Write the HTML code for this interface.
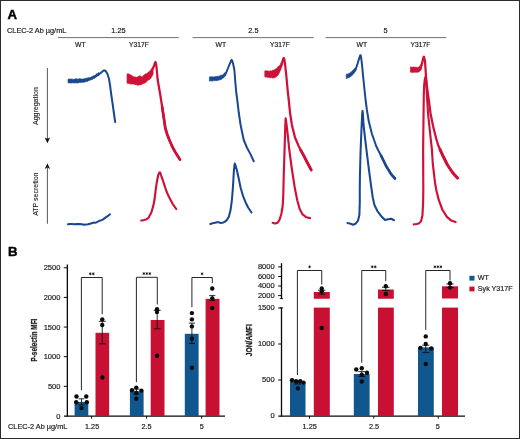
<!DOCTYPE html>
<html><head><meta charset="utf-8"><title>Figure</title>
<style>
html,body{margin:0;padding:0;background:#fff;}
body{width:520px;height:439px;overflow:hidden;font-family:"Liberation Sans",sans-serif;}
#fig{position:absolute;left:0;top:0;width:520px;height:439px;box-sizing:border-box;border:1px solid #2b2b2b;background:#fff;}
svg{position:absolute;left:0;top:0;display:block;will-change:transform;}
text{font-family:"Liberation Sans",sans-serif;}
</style></head>
<body>
<div id="fig"></div>
<svg width="520" height="439" viewBox="0 0 520 439">
<text x="7.4" y="19.0" font-size="13.2" text-anchor="start" font-weight="bold" fill="#000" stroke="#000" stroke-width="0.45" >A</text>
<text x="7" y="32.9" font-size="7.35" text-anchor="start" font-weight="normal" fill="#1a1a1a" stroke="#1a1a1a" stroke-width="0.18" >CLEC-2 Ab µg/mL</text>
<text x="118.4" y="32.7" font-size="7.3" text-anchor="middle" font-weight="normal" fill="#1a1a1a" stroke="#1a1a1a" stroke-width="0.18" >1.25</text>
<text x="253.4" y="32.7" font-size="7.3" text-anchor="middle" font-weight="normal" fill="#1a1a1a" stroke="#1a1a1a" stroke-width="0.18" >2.5</text>
<text x="385.6" y="32.7" font-size="7.3" text-anchor="middle" font-weight="normal" fill="#1a1a1a" stroke="#1a1a1a" stroke-width="0.18" >5</text>
<line x1="58" y1="37.6" x2="178.75" y2="37.6" stroke="#333" stroke-width="0.7"/>
<line x1="192.5" y1="37.6" x2="313.75" y2="37.6" stroke="#333" stroke-width="0.7"/>
<line x1="325.5" y1="37.6" x2="446.25" y2="37.6" stroke="#333" stroke-width="0.7"/>
<text x="80.4" y="47.3" font-size="7.1" text-anchor="middle" font-weight="normal" fill="#1a1a1a" stroke="#1a1a1a" stroke-width="0.18" textLength="10.6" lengthAdjust="spacingAndGlyphs">WT</text>
<text x="220.79999999999998" y="47.3" font-size="7.1" text-anchor="middle" font-weight="normal" fill="#1a1a1a" stroke="#1a1a1a" stroke-width="0.18" textLength="10.6" lengthAdjust="spacingAndGlyphs">WT</text>
<text x="361.8" y="47.3" font-size="7.1" text-anchor="middle" font-weight="normal" fill="#1a1a1a" stroke="#1a1a1a" stroke-width="0.18" textLength="10.6" lengthAdjust="spacingAndGlyphs">WT</text>
<text x="138.9" y="47.3" font-size="7.1" text-anchor="middle" font-weight="normal" fill="#1a1a1a" stroke="#1a1a1a" stroke-width="0.18" textLength="19.6" lengthAdjust="spacingAndGlyphs">Y317F</text>
<text x="279.90000000000003" y="47.3" font-size="7.1" text-anchor="middle" font-weight="normal" fill="#1a1a1a" stroke="#1a1a1a" stroke-width="0.18" textLength="19.6" lengthAdjust="spacingAndGlyphs">Y317F</text>
<text x="420.40000000000003" y="47.3" font-size="7.1" text-anchor="middle" font-weight="normal" fill="#1a1a1a" stroke="#1a1a1a" stroke-width="0.18" textLength="19.6" lengthAdjust="spacingAndGlyphs">Y317F</text>
<line x1="47.4" y1="68" x2="47.4" y2="139" stroke="#222" stroke-width="0.75"/>
<polygon points="44.7,137.4 47.4,138.8 50.1,137.4 47.4,143.3" fill="#111"/>
<line x1="47.4" y1="167.5" x2="47.4" y2="223.8" stroke="#222" stroke-width="0.75"/>
<polygon points="44.7,168.9 47.4,167.5 50.1,168.9 47.4,163.2" fill="#111"/>
<text transform="translate(38.3,125.0) rotate(-90)" font-size="7.8" fill="#1a1a1a" stroke="#1a1a1a" stroke-width="0.12" textLength="37.8" lengthAdjust="spacingAndGlyphs">Aggregation</text>
<text transform="translate(38.3,215.8) rotate(-90)" font-size="7.8" fill="#1a1a1a" stroke="#1a1a1a" stroke-width="0.12" textLength="43.2" lengthAdjust="spacingAndGlyphs">ATP secretion</text>
<polygon points="68.00,79.14 69.00,78.90 70.00,79.31 71.00,78.87 72.00,79.31 73.00,79.22 74.00,79.24 75.00,78.96 76.00,78.78 77.00,78.86 78.00,79.24 79.00,78.63 80.00,78.72 81.00,78.95 82.00,79.01 83.00,79.11 84.00,78.87 85.00,78.39 86.00,78.29 87.00,78.19 88.00,77.67 89.00,77.76 90.00,77.44 91.00,77.36 92.00,76.45 93.00,76.05 94.00,75.79 95.00,75.32 96.00,74.31 97.00,73.50 98.00,73.52 99.00,72.19 99.00,75.45 98.00,75.74 97.00,76.41 96.00,77.13 95.00,78.14 94.00,78.28 93.00,78.97 92.00,79.64 91.00,79.73 90.00,80.27 89.00,80.42 88.00,81.17 87.00,81.56 86.00,81.54 85.00,82.10 84.00,82.23 83.00,82.26 82.00,82.42 81.00,82.24 80.00,82.73 79.00,82.61 78.00,82.96 77.00,83.12 76.00,82.78 75.00,83.06 74.00,83.04 73.00,82.78 72.00,82.94 71.00,83.01 70.00,83.04 69.00,82.84 68.00,83.06" fill="#1a4890" stroke="#1a4890" stroke-width="0.6" stroke-linejoin="round"/>
<polyline points="98.00,75.00 101.00,72.80 103.00,71.00 104.00,70.30 105.00,70.60 106.00,71.40 107.50,74.00 109.00,79.00 110.00,85.00 111.30,95.00 112.50,103.00 114.00,114.00 115.20,122.00" fill="none" stroke="#1a4890" stroke-width="2.0" stroke-linecap="round" stroke-linejoin="round"/>
<polyline points="68.00,224.25 70.02,224.00 71.96,223.96 74.48,224.33 76.96,223.96 79.66,224.11 81.98,224.32 83.83,224.77 86.13,224.45 88.09,224.28 90.12,223.69 93.07,222.84 95.18,222.63 96.38,222.38 98.26,221.43 99.91,220.55 101.48,220.15 102.98,219.53 105.00,217.88 107.60,216.22 110.00,214.25" fill="none" stroke="#1a4890" stroke-width="2.05" stroke-linecap="round" stroke-linejoin="round"/>
<polygon points="127.00,73.96 128.00,73.75 129.00,73.96 130.00,74.46 131.00,75.21 132.00,75.43 133.00,76.49 134.00,76.92 135.00,76.87 136.00,77.25 136.83,77.27 137.67,76.65 138.50,76.46 139.38,75.81 140.25,75.86 141.12,76.52 142.00,77.19 143.00,75.87 144.00,75.15 145.00,74.12 146.00,73.74 147.00,73.57 148.00,72.27 149.00,71.72 150.00,71.11 151.00,69.49 152.00,68.41 153.00,67.00 153.20,73.87 152.35,75.73 151.50,77.18 150.67,78.46 149.83,79.26 149.00,79.85 148.00,80.30 147.00,81.03 146.00,82.50 145.00,82.91 144.00,83.20 143.00,83.73 142.00,84.36 141.00,84.75 140.00,84.93 139.00,84.94 138.00,85.20 137.00,85.13 136.17,84.56 135.33,84.63 134.50,84.45 133.67,83.96 132.83,84.04 132.00,83.92 131.17,84.20 130.33,83.94 129.50,83.70 128.67,83.53 127.83,83.31 127.00,83.31" fill="#cf1038" stroke="#cf1038" stroke-width="0.6" stroke-linejoin="round"/>
<polyline points="152.00,70.00 154.00,66.00 155.00,62.60 155.50,62.00 156.00,63.50 156.60,68.00 157.70,80.00 160.30,95.00 163.00,112.50 165.30,128.00 167.20,134.50 169.40,140.00 172.20,146.50 175.20,152.00 180.00,159.60" fill="none" stroke="#cf1038" stroke-width="2.25" stroke-linecap="round" stroke-linejoin="round"/>
<polyline points="162.20,107.00 163.00,112.50 165.30,128.00 167.20,134.50 169.40,140.00 172.20,146.50 175.20,152.00 180.00,159.60" fill="none" stroke="#cf1038" stroke-width="2.7" stroke-linecap="round" stroke-linejoin="round"/>
<polyline points="141.25,220.50 144.05,220.10 146.58,219.25 148.66,217.56 151.35,212.52 153.20,206.13 154.46,200.03 155.68,189.96 156.97,181.19 158.38,174.49 159.64,172.32 160.31,172.89 161.14,175.55 163.13,181.15 164.39,185.10 166.19,190.49 168.66,196.31 172.60,203.83 176.25,209.00" fill="none" stroke="#cf1038" stroke-width="2.15" stroke-linecap="round" stroke-linejoin="round"/>
<polygon points="209.40,76.88 210.30,76.72 211.20,77.03 212.10,76.58 213.00,77.04 214.00,77.03 215.00,76.51 216.00,76.67 217.00,76.26 218.00,76.36 219.00,76.13 220.00,75.65 221.00,75.12 221.92,75.22 222.83,74.71 223.75,73.84 224.88,72.80 226.00,72.21 226.00,75.38 224.88,76.16 223.75,77.68 222.83,78.18 221.92,78.87 221.00,79.71 220.00,79.73 219.00,80.10 218.00,80.32 217.00,80.64 216.00,80.51 215.00,80.81 214.00,80.61 213.00,80.72 212.10,81.14 211.20,80.77 210.30,81.04 209.40,80.95" fill="#1a4890" stroke="#1a4890" stroke-width="0.6" stroke-linejoin="round"/>
<polyline points="225.60,73.40 226.25,72.50 228.75,66.25 230.60,61.90 231.30,60.20 231.70,59.90 232.30,61.00 233.10,63.75 234.40,70.00 235.25,81.25 236.25,92.50 237.25,100.00 238.75,112.50 240.60,125.00 243.75,140.00 246.90,147.50 250.60,154.40 253.75,161.25" fill="none" stroke="#1a4890" stroke-width="2.0" stroke-linecap="round" stroke-linejoin="round"/>
<polyline points="210.25,224.00 212.56,223.22 214.94,222.80 216.95,222.16 218.80,222.31 220.54,222.92 222.48,222.78 224.57,221.87 226.26,220.66 228.79,216.90 230.55,210.04 231.90,200.07 232.73,190.07 233.36,180.06 233.82,172.08 234.39,165.93 234.79,163.54 235.37,164.93 236.83,169.94 238.78,178.68 240.57,187.48 241.30,189.92 243.08,196.22 245.62,202.45 248.13,207.51 251.50,212.50" fill="none" stroke="#1a4890" stroke-width="2.05" stroke-linecap="round" stroke-linejoin="round"/>
<polygon points="264.75,70.82 265.56,70.93 266.38,70.55 267.19,70.86 268.00,71.11 268.90,71.00 269.80,71.16 270.70,70.61 271.60,71.05 272.50,70.34 273.33,70.02 274.17,70.01 275.00,69.22 275.83,68.85 276.67,68.26 277.50,67.37 278.33,66.30 279.17,66.02 280.00,65.03 281.00,62.79 282.00,61.03 283.20,58.34 283.30,62.56 282.27,65.69 281.25,68.52 280.42,70.41 279.58,72.30 278.75,74.09 277.88,75.48 277.00,76.37 276.00,77.09 275.00,77.54 274.17,77.74 273.33,78.04 272.50,78.06 271.60,77.56 270.70,77.92 269.80,77.59 268.90,77.45 268.00,77.23 267.19,77.49 266.38,77.01 265.56,77.22 264.75,76.66" fill="#cf1038" stroke="#cf1038" stroke-width="0.6" stroke-linejoin="round"/>
<polyline points="282.60,61.00 283.30,58.60 283.80,58.00 284.40,59.60 285.00,63.75 286.25,75.00 287.75,91.25 288.75,100.00 290.00,112.50 291.90,125.00 295.00,137.50 298.75,146.25 303.10,154.40 307.00,162.00 311.25,170.00" fill="none" stroke="#cf1038" stroke-width="2.25" stroke-linecap="round" stroke-linejoin="round"/>
<polyline points="300.50,150.00 303.10,154.40 307.00,162.00 311.25,170.00" fill="none" stroke="#cf1038" stroke-width="2.8" stroke-linecap="round" stroke-linejoin="round"/>
<polyline points="272.60,222.75 275.11,223.56 277.59,222.70 279.46,220.01 281.37,213.71 282.63,206.21 283.23,196.20 283.76,174.99 284.56,149.95 285.31,124.93 285.65,118.35 286.07,120.92 286.95,127.94 287.84,135.92 289.32,150.00 291.74,168.04 293.23,177.93 294.90,188.56 297.33,200.52 299.59,208.74 302.58,214.40 306.48,217.30 310.10,218.10" fill="none" stroke="#cf1038" stroke-width="2.15" stroke-linecap="round" stroke-linejoin="round"/>
<polygon points="346.25,74.32 347.17,74.34 348.08,73.81 349.00,73.47 350.12,72.67 351.25,71.95 352.38,70.70 353.50,69.75 354.25,69.06 355.00,67.92 356.30,69.61 355.00,72.06 354.25,72.99 353.50,74.00 352.38,75.11 351.25,76.30 350.12,76.79 349.00,77.69 348.08,77.84 347.17,78.29 346.25,78.87" fill="#1a4890" stroke="#1a4890" stroke-width="0.6" stroke-linejoin="round"/>
<polyline points="355.30,70.00 356.50,66.80 357.80,63.00 359.40,57.50 360.20,55.30 360.70,55.30 361.20,58.00 361.90,63.75 363.10,76.25 364.40,88.75 365.60,100.00 366.90,110.00 368.75,121.25 371.90,133.75 376.25,146.25 378.50,150.80 381.00,155.50 386.25,166.25 391.25,174.40 395.00,178.50" fill="none" stroke="#1a4890" stroke-width="2.0" stroke-linecap="round" stroke-linejoin="round"/>
<polyline points="381.00,155.50 386.25,166.25 391.25,174.40 395.00,178.50" fill="none" stroke="#1a4890" stroke-width="2.6" stroke-linecap="round" stroke-linejoin="round"/>
<polyline points="347.50,223.10 350.60,223.74 353.07,224.72 355.62,223.73 358.05,220.57 359.37,215.01 359.79,202.50 359.76,190.03 359.94,175.05 360.61,150.06 361.53,128.01 362.21,113.49 362.55,110.85 362.93,113.95 363.57,124.98 365.02,137.98 366.49,150.03 368.79,168.72 371.29,187.47 372.77,197.48 374.43,205.04 377.54,211.28 381.27,216.20 385.03,219.97 388.12,219.36 391.19,218.78 394.00,220.25" fill="none" stroke="#1a4890" stroke-width="2.05" stroke-linecap="round" stroke-linejoin="round"/>
<polygon points="410.40,66.84 411.30,67.09 412.20,67.36 413.10,66.92 414.00,66.98 415.00,67.37 416.00,66.98 417.00,67.49 418.00,67.46 419.00,66.83 420.00,65.85 420.70,64.72 421.40,63.97 421.60,69.29 420.80,70.36 420.00,71.03 419.00,71.76 418.00,72.17 417.00,72.33 416.00,72.26 415.00,72.14 414.00,72.40 413.10,72.17 412.20,72.51 411.30,72.43 410.40,72.10" fill="#cf1038" stroke="#cf1038" stroke-width="0.6" stroke-linejoin="round"/>
<polyline points="420.80,67.50 421.80,64.20 422.80,60.00 423.50,57.20 423.90,56.60 424.40,58.50 425.00,61.25 425.60,70.00 426.10,78.00 427.00,87.00 428.10,95.00 430.60,113.75 433.10,126.25 436.25,138.75 438.10,145.00 442.50,155.00 447.50,165.00 452.50,172.50 457.50,178.10" fill="none" stroke="#cf1038" stroke-width="2.25" stroke-linecap="round" stroke-linejoin="round"/>
<polyline points="440.00,149.40 442.50,155.00 447.50,165.00 452.50,172.50 457.50,178.10" fill="none" stroke="#cf1038" stroke-width="3.0" stroke-linecap="round" stroke-linejoin="round"/>
<polyline points="413.75,224.40 416.50,223.97 418.75,223.49 420.20,222.27 421.23,220.57 422.49,215.00 423.09,202.45 423.31,190.01 423.21,169.99 423.14,149.35 423.48,120.02 423.79,94.98 424.17,85.05 424.85,79.00 425.54,76.82 426.14,80.01 426.92,94.95 428.06,113.75 430.03,132.50 431.89,149.41 432.80,163.72 434.98,182.46 436.29,189.97 438.75,199.96 442.50,210.00 446.93,216.87 451.28,220.59 455.60,222.10" fill="none" stroke="#cf1038" stroke-width="2.15" stroke-linecap="round" stroke-linejoin="round"/>
<text x="7.9" y="256.4" font-size="13.2" text-anchor="start" font-weight="bold" fill="#000" stroke="#000" stroke-width="0.45" >B</text>
<line x1="67.35" y1="264.5" x2="67.35" y2="416.75" stroke="#080808" stroke-width="1.3"/>
<line x1="64.0" y1="416.2" x2="225" y2="416.2" stroke="#080808" stroke-width="1.3"/>
<text x="60.4" y="418.6" font-size="7.5" text-anchor="end" font-weight="normal" fill="#1a1a1a" stroke="#1a1a1a" stroke-width="0.18" >0</text>
<line x1="63.8" y1="386.35" x2="67.35" y2="386.35" stroke="#080808" stroke-width="1.0"/>
<text x="60.4" y="388.95000000000005" font-size="7.5" text-anchor="end" font-weight="normal" fill="#1a1a1a" stroke="#1a1a1a" stroke-width="0.18" >500</text>
<line x1="63.8" y1="356.7" x2="67.35" y2="356.7" stroke="#080808" stroke-width="1.0"/>
<text x="60.4" y="359.3" font-size="7.5" text-anchor="end" font-weight="normal" fill="#1a1a1a" stroke="#1a1a1a" stroke-width="0.18" >1000</text>
<line x1="63.8" y1="327.05" x2="67.35" y2="327.05" stroke="#080808" stroke-width="1.0"/>
<text x="60.4" y="329.65000000000003" font-size="7.5" text-anchor="end" font-weight="normal" fill="#1a1a1a" stroke="#1a1a1a" stroke-width="0.18" >1500</text>
<line x1="63.8" y1="297.4" x2="67.35" y2="297.4" stroke="#080808" stroke-width="1.0"/>
<text x="60.4" y="300.0" font-size="7.5" text-anchor="end" font-weight="normal" fill="#1a1a1a" stroke="#1a1a1a" stroke-width="0.18" >2000</text>
<line x1="63.8" y1="267.75" x2="67.35" y2="267.75" stroke="#080808" stroke-width="1.0"/>
<text x="60.4" y="270.35" font-size="7.5" text-anchor="end" font-weight="normal" fill="#1a1a1a" stroke="#1a1a1a" stroke-width="0.18" >2500</text>
<line x1="91.6" y1="416.0" x2="91.6" y2="418.8" stroke="#080808" stroke-width="0.9"/>
<line x1="146.6" y1="416.0" x2="146.6" y2="418.8" stroke="#080808" stroke-width="0.9"/>
<line x1="201.7" y1="416.0" x2="201.7" y2="418.8" stroke="#080808" stroke-width="0.9"/>
<text x="92.1" y="429.2" font-size="7.3" text-anchor="middle" font-weight="normal" fill="#1a1a1a" stroke="#1a1a1a" stroke-width="0.18" >1.25</text>
<text x="146.6" y="429.2" font-size="7.3" text-anchor="middle" font-weight="normal" fill="#1a1a1a" stroke="#1a1a1a" stroke-width="0.18" >2.5</text>
<text x="201.7" y="429.2" font-size="7.3" text-anchor="middle" font-weight="normal" fill="#1a1a1a" stroke="#1a1a1a" stroke-width="0.18" >5</text>
<text x="8" y="429.3" font-size="7.35" text-anchor="start" font-weight="normal" fill="#1a1a1a" stroke="#1a1a1a" stroke-width="0.18" >CLEC-2 Ab µg/mL</text>
<text transform="translate(37,361.5) rotate(-90)" font-size="9.8" font-weight="bold" fill="#1c1c1c" stroke="#1c1c1c" stroke-width="0.25" textLength="42.8" lengthAdjust="spacingAndGlyphs">P-selectin MFI</text>
<rect x="74.6" y="401.9" width="13.70" height="14.10" fill="#11578f"/>
<rect x="95.5" y="332.8" width="13.60" height="83.20" fill="#c81033"/>
<line x1="81.5" y1="398.8" x2="81.5" y2="405" stroke="#0d0d0d" stroke-width="0.85"/>
<line x1="78.6" y1="398.8" x2="84.4" y2="398.8" stroke="#0d0d0d" stroke-width="0.85"/>
<line x1="78.6" y1="405" x2="84.4" y2="405" stroke="#0d0d0d" stroke-width="0.85"/>
<line x1="102.25" y1="321.3" x2="102.25" y2="343.8" stroke="#0d0d0d" stroke-width="0.85"/>
<line x1="98.75" y1="321.3" x2="105.75" y2="321.3" stroke="#0d0d0d" stroke-width="0.85"/>
<line x1="98.75" y1="343.8" x2="105.75" y2="343.8" stroke="#0d0d0d" stroke-width="0.85"/>
<circle cx="76.5" cy="396.5" r="2.2" fill="#0b0b0b"/>
<circle cx="86.25" cy="396.5" r="2.2" fill="#0b0b0b"/>
<circle cx="76.2" cy="402.2" r="2.2" fill="#0b0b0b"/>
<circle cx="86.8" cy="402.2" r="2.2" fill="#0b0b0b"/>
<circle cx="81.5" cy="408.1" r="2.2" fill="#0b0b0b"/>
<circle cx="102.25" cy="319.4" r="2.2" fill="#0b0b0b"/>
<circle cx="102.25" cy="325" r="2.2" fill="#0b0b0b"/>
<circle cx="102.4" cy="377.5" r="2.2" fill="#0b0b0b"/>
<polyline points="81.4,390.2 81.4,277.5 102.2,277.5 102.2,314.2" fill="none" stroke="#0d0d0d" stroke-width="0.9"/>
<path d="M90.30 272.75L90.30 274.85M91.21 273.28L89.39 274.32M91.21 274.32L89.39 273.28" stroke="#111" stroke-width="0.7" stroke-linecap="round" fill="none"/>
<circle cx="90.30" cy="273.80" r="0.6" fill="#111"/>
<path d="M93.30 272.75L93.30 274.85M94.21 273.28L92.39 274.32M94.21 274.32L92.39 273.28" stroke="#111" stroke-width="0.7" stroke-linecap="round" fill="none"/>
<circle cx="93.30" cy="273.80" r="0.6" fill="#111"/>
<rect x="129.9" y="391.2" width="13.70" height="24.80" fill="#11578f"/>
<rect x="150.7" y="320" width="13.80" height="96.00" fill="#c81033"/>
<line x1="136.4" y1="389" x2="136.4" y2="394" stroke="#0d0d0d" stroke-width="0.85"/>
<line x1="133.4" y1="389" x2="139.4" y2="389" stroke="#0d0d0d" stroke-width="0.85"/>
<line x1="133.4" y1="394" x2="139.4" y2="394" stroke="#0d0d0d" stroke-width="0.85"/>
<line x1="157.2" y1="310.4" x2="157.2" y2="328.8" stroke="#0d0d0d" stroke-width="0.85"/>
<line x1="153.7" y1="310.4" x2="160.7" y2="310.4" stroke="#0d0d0d" stroke-width="0.85"/>
<line x1="153.7" y1="328.8" x2="160.7" y2="328.8" stroke="#0d0d0d" stroke-width="0.85"/>
<circle cx="132.0" cy="390.25" r="2.2" fill="#0b0b0b"/>
<circle cx="136.3" cy="387.6" r="2.2" fill="#0b0b0b"/>
<circle cx="141.4" cy="390.6" r="2.2" fill="#0b0b0b"/>
<circle cx="136.3" cy="393" r="2.2" fill="#0b0b0b"/>
<circle cx="136.3" cy="398.75" r="2.2" fill="#0b0b0b"/>
<circle cx="157" cy="309.2" r="2.2" fill="#0b0b0b"/>
<circle cx="157" cy="312.1" r="2.2" fill="#0b0b0b"/>
<circle cx="157" cy="355.75" r="2.2" fill="#0b0b0b"/>
<polyline points="136.4,382.2 136.4,277.3 157.3,277.3 157.3,304.5" fill="none" stroke="#0d0d0d" stroke-width="0.9"/>
<path d="M143.85 272.55L143.85 274.65M144.76 273.08L142.94 274.12M144.76 274.12L142.94 273.08" stroke="#111" stroke-width="0.7" stroke-linecap="round" fill="none"/>
<circle cx="143.85" cy="273.60" r="0.6" fill="#111"/>
<path d="M146.85 272.55L146.85 274.65M147.76 273.08L145.94 274.12M147.76 274.12L145.94 273.08" stroke="#111" stroke-width="0.7" stroke-linecap="round" fill="none"/>
<circle cx="146.85" cy="273.60" r="0.6" fill="#111"/>
<path d="M149.85 272.55L149.85 274.65M150.76 273.08L148.94 274.12M150.76 274.12L148.94 273.08" stroke="#111" stroke-width="0.7" stroke-linecap="round" fill="none"/>
<circle cx="149.85" cy="273.60" r="0.6" fill="#111"/>
<rect x="184.8" y="333.8" width="13.80" height="82.20" fill="#11578f"/>
<rect x="205.6" y="298.8" width="13.90" height="117.20" fill="#c81033"/>
<line x1="191.9" y1="323.1" x2="191.9" y2="343.5" stroke="#0d0d0d" stroke-width="0.85"/>
<line x1="188.8" y1="323.1" x2="195.0" y2="323.1" stroke="#0d0d0d" stroke-width="0.85"/>
<line x1="188.8" y1="343.5" x2="195.0" y2="343.5" stroke="#0d0d0d" stroke-width="0.85"/>
<line x1="212.25" y1="295.6" x2="212.25" y2="300.6" stroke="#0d0d0d" stroke-width="0.85"/>
<line x1="209.15" y1="295.6" x2="215.35" y2="295.6" stroke="#0d0d0d" stroke-width="0.85"/>
<line x1="209.15" y1="300.6" x2="215.35" y2="300.6" stroke="#0d0d0d" stroke-width="0.85"/>
<circle cx="191.9" cy="313.1" r="2.2" fill="#0b0b0b"/>
<circle cx="191.9" cy="319.4" r="2.2" fill="#0b0b0b"/>
<circle cx="191.9" cy="326.4" r="2.2" fill="#0b0b0b"/>
<circle cx="191.9" cy="338.8" r="2.2" fill="#0b0b0b"/>
<circle cx="191.9" cy="367.75" r="2.2" fill="#0b0b0b"/>
<circle cx="212.25" cy="288.5" r="2.2" fill="#0b0b0b"/>
<circle cx="212.25" cy="298.4" r="2.2" fill="#0b0b0b"/>
<circle cx="212.25" cy="308.1" r="2.2" fill="#0b0b0b"/>
<polyline points="191.9,307.2 191.9,277.5 212.3,277.5 212.3,283.2" fill="none" stroke="#0d0d0d" stroke-width="0.9"/>
<path d="M202.10 272.75L202.10 274.85M203.01 273.28L201.19 274.32M203.01 274.32L201.19 273.28" stroke="#111" stroke-width="0.7" stroke-linecap="round" fill="none"/>
<circle cx="202.10" cy="273.80" r="0.6" fill="#111"/>
<line x1="281.5" y1="263.2" x2="281.5" y2="298.6" stroke="#080808" stroke-width="1.3"/>
<line x1="279.8" y1="298.6" x2="283.2" y2="298.6" stroke="#080808" stroke-width="0.9"/>
<line x1="281.5" y1="307.8" x2="281.5" y2="416.75" stroke="#080808" stroke-width="1.3"/>
<line x1="279.8" y1="307.8" x2="283.2" y2="307.8" stroke="#080808" stroke-width="0.9"/>
<line x1="278.3" y1="416.2" x2="465" y2="416.2" stroke="#080808" stroke-width="1.3"/>
<line x1="278.2" y1="266.9" x2="281.5" y2="266.9" stroke="#080808" stroke-width="1.0"/>
<text x="274.6" y="269.2" font-size="7.5" text-anchor="end" font-weight="normal" fill="#1a1a1a" stroke="#1a1a1a" stroke-width="0.18" >8000</text>
<line x1="278.2" y1="276.5" x2="281.5" y2="276.5" stroke="#080808" stroke-width="1.0"/>
<text x="274.6" y="278.8" font-size="7.5" text-anchor="end" font-weight="normal" fill="#1a1a1a" stroke="#1a1a1a" stroke-width="0.18" >6000</text>
<line x1="278.2" y1="286.0" x2="281.5" y2="286.0" stroke="#080808" stroke-width="1.0"/>
<text x="274.6" y="288.3" font-size="7.5" text-anchor="end" font-weight="normal" fill="#1a1a1a" stroke="#1a1a1a" stroke-width="0.18" >4000</text>
<line x1="278.2" y1="295.6" x2="281.5" y2="295.6" stroke="#080808" stroke-width="1.0"/>
<text x="274.6" y="297.90000000000003" font-size="7.5" text-anchor="end" font-weight="normal" fill="#1a1a1a" stroke="#1a1a1a" stroke-width="0.18" >2000</text>
<text x="274.6" y="418.2" font-size="7.5" text-anchor="end" font-weight="normal" fill="#1a1a1a" stroke="#1a1a1a" stroke-width="0.18" >0</text>
<line x1="278.2" y1="380.0" x2="281.5" y2="380.0" stroke="#080808" stroke-width="1.0"/>
<text x="274.6" y="382.2" font-size="7.5" text-anchor="end" font-weight="normal" fill="#1a1a1a" stroke="#1a1a1a" stroke-width="0.18" >500</text>
<line x1="278.2" y1="344.0" x2="281.5" y2="344.0" stroke="#080808" stroke-width="1.0"/>
<text x="274.6" y="346.2" font-size="7.5" text-anchor="end" font-weight="normal" fill="#1a1a1a" stroke="#1a1a1a" stroke-width="0.18" >1000</text>
<line x1="278.2" y1="308.0" x2="281.5" y2="308.0" stroke="#080808" stroke-width="1.0"/>
<text x="274.6" y="310.2" font-size="7.5" text-anchor="end" font-weight="normal" fill="#1a1a1a" stroke="#1a1a1a" stroke-width="0.18" >1500</text>
<line x1="309.5" y1="416.0" x2="309.5" y2="418.8" stroke="#080808" stroke-width="0.9"/>
<line x1="373.75" y1="416.0" x2="373.75" y2="418.8" stroke="#080808" stroke-width="0.9"/>
<line x1="438.25" y1="416.0" x2="438.25" y2="418.8" stroke="#080808" stroke-width="0.9"/>
<text x="309.7" y="429.2" font-size="7.3" text-anchor="middle" font-weight="normal" fill="#1a1a1a" stroke="#1a1a1a" stroke-width="0.18" >1.25</text>
<text x="374.1" y="429.2" font-size="7.3" text-anchor="middle" font-weight="normal" fill="#1a1a1a" stroke="#1a1a1a" stroke-width="0.18" >2.5</text>
<text x="437.9" y="429.2" font-size="7.3" text-anchor="middle" font-weight="normal" fill="#1a1a1a" stroke="#1a1a1a" stroke-width="0.18" >5</text>
<text transform="translate(252,356.2) rotate(-90)" font-size="9.8" font-weight="bold" fill="#1c1c1c" stroke="#1c1c1c" stroke-width="0.25" textLength="32" lengthAdjust="spacingAndGlyphs">JON/AMFI</text>
<rect x="290.0" y="382" width="15.50" height="34.00" fill="#11578f"/>
<rect x="313.8" y="307.6" width="16.00" height="108.40" fill="#c81033"/>
<rect x="313.8" y="292" width="16.00" height="6.75" fill="#c81033"/>
<line x1="297.4" y1="380.6" x2="297.4" y2="384" stroke="#0d0d0d" stroke-width="0.85"/>
<line x1="293.9" y1="380.6" x2="300.9" y2="380.6" stroke="#0d0d0d" stroke-width="0.85"/>
<line x1="293.9" y1="384" x2="300.9" y2="384" stroke="#0d0d0d" stroke-width="0.85"/>
<line x1="321.75" y1="290.2" x2="321.75" y2="294.2" stroke="#0d0d0d" stroke-width="0.85"/>
<line x1="318.0" y1="290.2" x2="325.5" y2="290.2" stroke="#0d0d0d" stroke-width="0.85"/>
<line x1="318.0" y1="294.2" x2="325.5" y2="294.2" stroke="#0d0d0d" stroke-width="0.85"/>
<circle cx="292.0" cy="380.2" r="2.2" fill="#0b0b0b"/>
<circle cx="296.0" cy="381.2" r="2.2" fill="#0b0b0b"/>
<circle cx="300.2" cy="381.2" r="2.2" fill="#0b0b0b"/>
<circle cx="303.5" cy="382.6" r="2.2" fill="#0b0b0b"/>
<circle cx="297.8" cy="388.4" r="2.2" fill="#0b0b0b"/>
<circle cx="321.75" cy="288.4" r="2.2" fill="#0b0b0b"/>
<circle cx="321.75" cy="291.25" r="2.2" fill="#0b0b0b"/>
<circle cx="321.75" cy="328" r="2.2" fill="#0b0b0b"/>
<polyline points="297.4,375 297.4,270.5 321.75,270.5 321.75,284.5" fill="none" stroke="#0d0d0d" stroke-width="0.9"/>
<path d="M309.57 265.75L309.57 267.85M310.48 266.28L308.67 267.32M310.48 267.32L308.67 266.28" stroke="#111" stroke-width="0.7" stroke-linecap="round" fill="none"/>
<circle cx="309.57" cy="266.80" r="0.6" fill="#111"/>
<rect x="353.8" y="374" width="15.80" height="42.00" fill="#11578f"/>
<rect x="378" y="307.6" width="15.80" height="108.40" fill="#c81033"/>
<rect x="378" y="289.5" width="15.80" height="9.25" fill="#c81033"/>
<line x1="361.75" y1="371.6" x2="361.75" y2="376.4" stroke="#0d0d0d" stroke-width="0.85"/>
<line x1="358.25" y1="371.6" x2="365.25" y2="371.6" stroke="#0d0d0d" stroke-width="0.85"/>
<line x1="358.25" y1="376.4" x2="365.25" y2="376.4" stroke="#0d0d0d" stroke-width="0.85"/>
<line x1="385.75" y1="287.3" x2="385.75" y2="290.6" stroke="#0d0d0d" stroke-width="0.85"/>
<line x1="382.0" y1="287.3" x2="389.5" y2="287.3" stroke="#0d0d0d" stroke-width="0.85"/>
<line x1="382.0" y1="290.6" x2="389.5" y2="290.6" stroke="#0d0d0d" stroke-width="0.85"/>
<circle cx="356.25" cy="369.5" r="2.2" fill="#0b0b0b"/>
<circle cx="361.75" cy="368.25" r="2.2" fill="#0b0b0b"/>
<circle cx="367" cy="372.75" r="2.2" fill="#0b0b0b"/>
<circle cx="361.75" cy="374.75" r="2.2" fill="#0b0b0b"/>
<circle cx="361.75" cy="381.5" r="2.2" fill="#0b0b0b"/>
<circle cx="385.8" cy="286.3" r="2.2" fill="#0b0b0b"/>
<circle cx="385.8" cy="294.0" r="2.2" fill="#0b0b0b"/>
<polyline points="361.75,362.8 361.75,270.5 385.75,270.5 385.75,281.2" fill="none" stroke="#0d0d0d" stroke-width="0.9"/>
<path d="M372.25 265.75L372.25 267.85M373.16 266.28L371.34 267.32M373.16 267.32L371.34 266.28" stroke="#111" stroke-width="0.7" stroke-linecap="round" fill="none"/>
<circle cx="372.25" cy="266.80" r="0.6" fill="#111"/>
<path d="M375.25 265.75L375.25 267.85M376.16 266.28L374.34 267.32M376.16 267.32L374.34 266.28" stroke="#111" stroke-width="0.7" stroke-linecap="round" fill="none"/>
<circle cx="375.25" cy="266.80" r="0.6" fill="#111"/>
<rect x="418" y="347.4" width="15.80" height="68.60" fill="#11578f"/>
<rect x="442" y="307.6" width="16.00" height="108.40" fill="#c81033"/>
<rect x="442" y="286.3" width="16.00" height="12.20" fill="#c81033"/>
<line x1="425.75" y1="345.2" x2="425.75" y2="352.6" stroke="#0d0d0d" stroke-width="0.85"/>
<line x1="422.25" y1="345.2" x2="429.25" y2="345.2" stroke="#0d0d0d" stroke-width="0.85"/>
<line x1="422.25" y1="352.6" x2="429.25" y2="352.6" stroke="#0d0d0d" stroke-width="0.85"/>
<line x1="450" y1="284" x2="450" y2="287.6" stroke="#0d0d0d" stroke-width="0.85"/>
<line x1="446.25" y1="284" x2="453.75" y2="284" stroke="#0d0d0d" stroke-width="0.85"/>
<line x1="446.25" y1="287.6" x2="453.75" y2="287.6" stroke="#0d0d0d" stroke-width="0.85"/>
<circle cx="425.75" cy="336.4" r="2.2" fill="#0b0b0b"/>
<circle cx="425.75" cy="344" r="2.2" fill="#0b0b0b"/>
<circle cx="420.4" cy="347.9" r="2.2" fill="#0b0b0b"/>
<circle cx="431.25" cy="348.5" r="2.2" fill="#0b0b0b"/>
<circle cx="425.75" cy="364" r="2.2" fill="#0b0b0b"/>
<circle cx="450" cy="283.2" r="2.2" fill="#0b0b0b"/>
<circle cx="450" cy="287.6" r="2.2" fill="#0b0b0b"/>
<polyline points="425.75,329.8 425.75,270.5 450,270.5 450,280.5" fill="none" stroke="#0d0d0d" stroke-width="0.9"/>
<path d="M434.88 265.75L434.88 267.85M435.78 266.28L433.97 267.32M435.78 267.32L433.97 266.28" stroke="#111" stroke-width="0.7" stroke-linecap="round" fill="none"/>
<circle cx="434.88" cy="266.80" r="0.6" fill="#111"/>
<path d="M437.88 265.75L437.88 267.85M438.78 266.28L436.97 267.32M438.78 267.32L436.97 266.28" stroke="#111" stroke-width="0.7" stroke-linecap="round" fill="none"/>
<circle cx="437.88" cy="266.80" r="0.6" fill="#111"/>
<path d="M440.88 265.75L440.88 267.85M441.78 266.28L439.97 267.32M441.78 267.32L439.97 266.28" stroke="#111" stroke-width="0.7" stroke-linecap="round" fill="none"/>
<circle cx="440.88" cy="266.80" r="0.6" fill="#111"/>
<rect x="469.4" y="275.8" width="5.10" height="4.80" fill="#11598a"/>
<rect x="469.4" y="286.6" width="5.10" height="4.80" fill="#c81033"/>
<text x="477.8" y="280.3" font-size="7.15" text-anchor="start" font-weight="normal" fill="#1a1a1a" stroke="#1a1a1a" stroke-width="0.18" >WT</text>
<text x="477.8" y="290.9" font-size="7.15" text-anchor="start" font-weight="normal" fill="#1a1a1a" stroke="#1a1a1a" stroke-width="0.18" >Syk Y317F</text>
</svg>
</body></html>
